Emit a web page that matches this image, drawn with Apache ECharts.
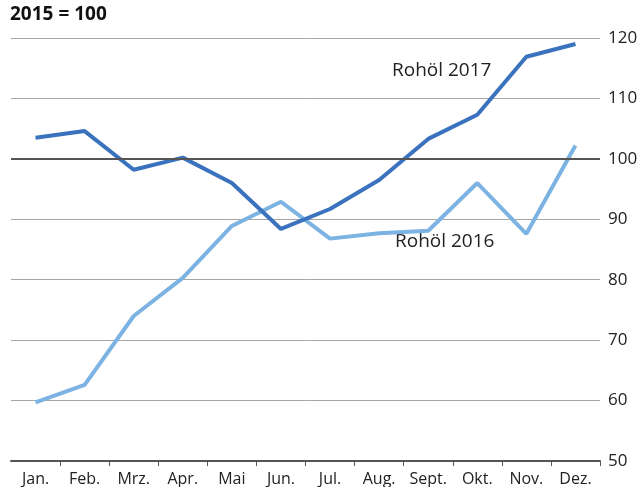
<!DOCTYPE html>
<html>
<head>
<meta charset="utf-8">
<script src="https://cdn.jsdelivr.net/npm/echarts@6/dist/echarts.min.js"></script>
<style>
  html, body { margin: 0; padding: 0; background: #fff; }
  #chart { width: 641px; height: 487px; }
</style>
</head>
<body>
<div id="chart"></div>
<script>
var months = ['Jan.', 'Feb.', 'Mrz.', 'Apr.', 'Mai', 'Jun.', 'Jul.', 'Aug.', 'Sept.', 'Okt.', 'Nov.', 'Dez.'];
// Rohöl 2017 (dunkelblau)
var oil2017 = [103.5, 104.6, 98.2, 100.2, 96.0, 88.4, 91.7, 96.5, 103.3, 107.3, 116.9, 119.0];
// Rohöl 2016 (hellblau)
var oil2016 = [59.7, 62.6, 74.0, 80.3, 88.9, 92.9, 86.8, 87.7, 88.1, 96.0, 87.6, 102.2];

var fontName = 'Open Sans, Noto Sans, sans-serif';

var chart = echarts.init(document.getElementById('chart'));
var option = {
    animation: false,
    textStyle: { fontFamily: fontName },
    grid: { left: 11, right: 41, top: 38, bottom: 26 },
    graphic: [
        { type: 'text', left: 10, top: 5, style: { text: '2015 = 100', font: 'bold 19px ' + fontName, fill: '#111' } },
        { type: 'text', left: 392, top: 61, style: { text: 'Rohöl 2017', font: '19px ' + fontName, fill: '#222' } },
        { type: 'text', left: 395, top: 232, style: { text: 'Rohöl 2016', font: '19px ' + fontName, fill: '#222' } }
    ],
    xAxis: {
        type: 'category',
        data: months,
        boundaryGap: true,
        axisLine: { lineStyle: { color: '#555', width: 2 } },
        axisTick: { show: true, length: 5, lineStyle: { color: '#555', width: 1 }, interval: function (i) { return i > 0; } },
        axisLabel: { color: '#222', fontSize: 16, margin: 10, interval: 0 }
    },
    yAxis: {
        type: 'value',
        position: 'right',
        min: 50,
        max: 120,
        interval: 10,
        axisLine: { show: false },
        axisTick: { show: false },
        axisLabel: { color: '#222', fontSize: 17, margin: 8, align: 'left' },
        splitLine: { lineStyle: { color: '#a6a6a6', width: 1 } }
    },
    series: [
        {
            name: 'Rohöl 2017',
            type: 'line',
            data: oil2017,
            symbol: 'none',
            lineStyle: { color: '#3b72bd', width: 4 },
            z: 3,
            markLine: {
                silent: true,
                symbol: 'none',
                label: { show: false },
                lineStyle: { color: '#555', width: 2, type: 'solid' },
                data: [{ yAxis: 100 }]
            }
        },
        {
            name: 'Rohöl 2016',
            type: 'line',
            data: oil2016,
            symbol: 'none',
            lineStyle: { color: '#7cb3e2', width: 4 },
            z: 2
        }
    ]
};
chart.setOption(option);
</script>
</body>
</html>
